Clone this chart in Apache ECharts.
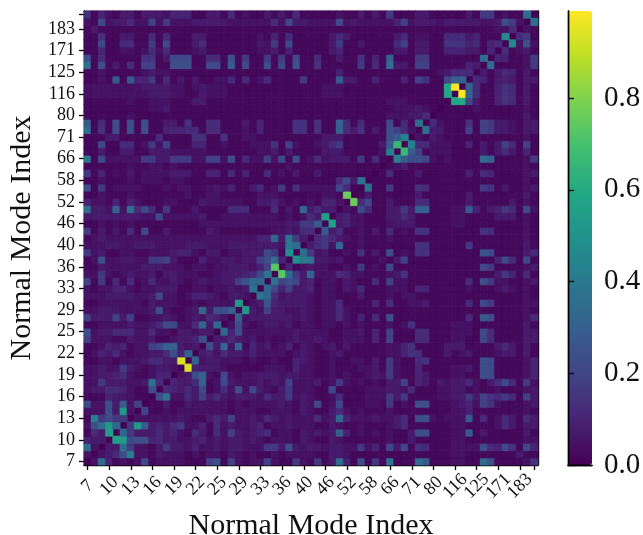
<!DOCTYPE html>
<html><head><meta charset="utf-8">
<style>html,body{margin:0;padding:0;background:#fff}#c{width:643px;height:535px;filter:blur(0.4px)}</style>
<script src="https://cdn.jsdelivr.net/npm/echarts@6/dist/echarts.min.js"></script>
</head><body><div id="c"></div>
<script>
const tickLabels = ['7','10','13','16','19','22','25','29','33','36','40','46','52','58','66','71','80','116','125','171','183'];
const colorbarStops = ['#440154','#482475','#414487','#355f8d','#2a788e','#21918c','#22a884','#44bf70','#7ad151','#bddf26','#fde725'];
const levelChars = '0123456789abcdefghijklmnopqrstuvwxyz';
// Lower triangle, row = mode (bottom to top), char = reading level
const lowerRows = [
"2","f2","433","153m","2afle","1i7977","222a3l2","922a3c28","111433211","233554211a",
"227333223g5","223345211244","2232273212332","1122122235533x","124352122335a4d",
"11243412289dd323","8222113223112334a","a23355522522133233","1122223223599225e3e",
"8333838112 2321232542","2233322223 a21123e3aad","1122222213 2221121222 2l",
"2223333223 9221244321 332","2122442122 3331122122 323g","8171515125 2232123223 38bee",
"2272123223 1332221123 33459g","1132222233 3222122122 333248r","12a2233227 7831114223 32338af4",
"7231122112 2234421331 22333971k","2223322333 2222333222 33333332hf",
"1232222222 2222222222 222244e3g7 3",
"7131315191 1311111321 1111112232 55",
"1121212111 1111112222 2222222233 77c",
"3333333322 9222223112 2222222121 253m",
"f332d2f595 1711131111 5551115131 e3533",
"4221414211 1221113222 2211334212 121442",
"1121112111 1111211221 1111222111 111221s",
"a171222211 1212211232 4113512716 22222951",
"1121112122 2122111111 1111111111 11111593g",
"7141213122 2233311441 5141151213 1131111111",
"1111112112 2121111111 1111111121 11111111111",
"g192222277 3377722882 a15228291a 125233317151",
"1131133113 3322222111 1111223131 111333111112i",
"1191155127 2811144112 1112226182 112357111113cp",
"1113311111 5111166116 1122111111 111333111111aci",
"f161a1a1a1 1444551551 1121411116 61611d536131a852",
"c151a1a1a1 1331611551 1131411116 61611d5151119151f",
"1111112111 1111111111 1111111111 111111111111222335",
"1111111112 2311111111 1111111111 1111111111111222321",
"1111112112 2211133111 1111111111 11111111111122211111",
"2222222223 3322113222 1111111111 11122211111111111111n",
"2222222233 3322123222 1111111111 11122211111111111111nz",
"1121c1c447 1513131122 5151251111 71111c3311 4111418611 9dd",
"1121111123 2211111111 1111111111 111114 1111111111111 23555",
"f1a1315188 11aaa11991 c1911a191b 1161111171 51f3318811 11143",
"a151111166 1399911551 a171171719 1151131161 41d1117711 11111f",
"1141122125 2511123111 1111223141 1111341111 1113313311 4443314",
"1191155117 1911135111 1111327191 1111371131 1115813311 66645145",
"1161133115 1511133111 1111214151 1111353111 1113512211 55534111j",
"1311111111 1111111111 1111111111 111111111111111111111111111225",
"2192335228 2722233333 2222225293 3222292322 2224823332 33333223a7 2",
"6142133133 3244411331 5121131315 1111121131 3171113311 1113177121 1f"
];
const size = lowerRows.length + 1;
const cats = [];
for (let k = 0; k < size; k++) cats.push(k % 3 === 0 ? tickLabels[k / 3] : '');
// reading level -> value: mid tones were read slightly high against the colour bar
const levelValue = ch => { const r = levelChars.indexOf(ch) / 35; return r <= 0.5 ? r * 0.82 : 0.41 + (r - 0.5) * 1.18; };
const colorOf = v => echarts.color.lerp(Math.min(1, v / 0.99), colorbarStops);
const cell = (x, y, v) => { const c = colorOf(v); return {value:[x, y, v], itemStyle:{color:c, borderColor:c, borderWidth:0.4}}; };
const cells = [];
for (let i = 0; i < size; i++) cells.push(cell(i, i, 0));
lowerRows.forEach((row, r) => {
  const i = r + 1, s = row.replace(/ /g, '');
  for (let j = 0; j < i; j++) {
    const v = levelValue(s[j] || '0');
    cells.push(cell(j, i, v)); cells.push(cell(i, j, v));
  }
});
const serif = '"Liberation Serif","DejaVu Serif",serif';
const edge = {show:true, lineStyle:{color:'#000', width:1.4}};
const chart = echarts.init(document.getElementById('c'), null, {renderer:'canvas'});
chart.setOption({
  animation:false, backgroundColor:'#fff',
  grid:[
    {left:84, top:11, width:454, height:454, outerBoundsMode:'none'},
    {left:568, top:11, width:24, height:454, outerBoundsMode:'none'}
  ],
  xAxis:[
    {type:'category', gridIndex:0, data:cats, position:'bottom',
     axisLine:edge,
     axisTick:{show:true, alignWithLabel:true, interval:2, length:5, lineStyle:{color:'#000', width:1.3}},
     axisLabel:{interval:2, rotate:45, align:'center', verticalAlign:'middle', lineHeight:8, showMinLabel:true, showMaxLabel:true, hideOverlap:false, fontFamily:serif, fontSize:18, color:'#111', margin:21},
     splitLine:{show:false},
     name:'Normal Mode Index', nameLocation:'middle', nameGap:46,
     nameTextStyle:{fontFamily:serif, fontSize:30, color:'#111'}},
    {type:'category', gridIndex:0, data:cats, position:'top', axisLine:edge, axisTick:{show:false}, axisLabel:{show:false}},
    {type:'value', gridIndex:1, min:0, max:1, position:'bottom', axisLine:edge, axisTick:{show:false}, axisLabel:{show:false}, splitLine:{show:false}},
    {type:'value', gridIndex:1, min:0, max:1, position:'top', axisLine:edge, axisTick:{show:false}, axisLabel:{show:false}, splitLine:{show:false}}
  ],
  yAxis:[
    {type:'category', gridIndex:0, data:cats, position:'left',
     axisLine:edge,
     axisTick:{show:true, alignWithLabel:true, interval:2, length:5, lineStyle:{color:'#000', width:1.3}},
     axisLabel:{interval:2, showMinLabel:true, showMaxLabel:true, fontFamily:serif, fontSize:18, color:'#111', margin:9},
     splitLine:{show:false},
     name:'Normal Mode Index', nameLocation:'middle', nameGap:43,
     nameTextStyle:{fontFamily:serif, fontSize:30, color:'#111'}},
    {type:'category', gridIndex:0, data:cats, position:'right', axisLine:edge, axisTick:{show:false}, axisLabel:{show:false}},
    {type:'value', gridIndex:1, min:0, max:0.99, interval:0.2, position:'right',
     axisLine:edge,
     axisTick:{show:true, length:6, lineStyle:{color:'#000', width:1.3}},
     axisLabel:{fontFamily:serif, fontSize:29, color:'#111', margin:12, showMaxLabel:false, formatter:v=>v.toFixed(1)},
     splitLine:{show:false}},
    {type:'value', gridIndex:1, min:0, max:1, position:'left', axisLine:edge, axisTick:{show:false}, axisLabel:{show:false}, splitLine:{show:false}}
  ],
  visualMap:{type:'continuous', min:0, max:0.99, left:568, top:11, itemWidth:24, itemHeight:454, z:-1,
    calculable:false, hoverLink:false, text:null, showLabel:false, seriesIndex:1, padding:0,
    textStyle:{fontSize:0}, inRange:{color:colorbarStops}},
  series:[
    {type:'heatmap', xAxisIndex:0, yAxisIndex:0, data:cells, progressive:0, emphasis:{disabled:true}},
    {type:'scatter', xAxisIndex:2, yAxisIndex:2, data:[], silent:true}
  ]
});
</script></body></html>
